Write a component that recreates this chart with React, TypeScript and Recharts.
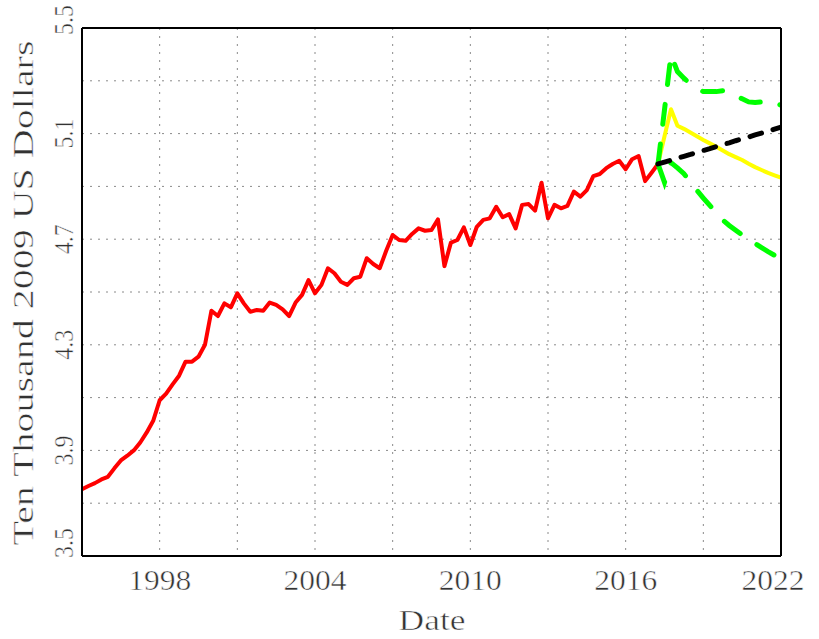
import React from 'react';
import { LineChart, Line, XAxis, YAxis, CartesianGrid } from 'recharts';

// Quarterly real income, history starting 1995 Q1
const historyStart = 1995;
const income = [
  3.753, 3.765, 3.776, 3.79,
  3.80, 3.832, 3.862, 3.88,
  3.90, 3.93, 3.968, 4.012,
  4.09, 4.115, 4.15, 4.183,
  4.236, 4.236, 4.255, 4.30,
  4.429, 4.409, 4.457, 4.442,
  4.495, 4.457, 4.425, 4.432,
  4.429, 4.46, 4.451, 4.434,
  4.409, 4.46, 4.489, 4.545,
  4.495, 4.527, 4.59, 4.571,
  4.539, 4.527, 4.552, 4.558,
  4.628, 4.606, 4.59, 4.656,
  4.716, 4.697, 4.694, 4.72,
  4.741, 4.732, 4.735, 4.775,
  4.598, 4.687, 4.697, 4.745,
  4.678, 4.747, 4.773, 4.779,
  4.823, 4.783, 4.795, 4.741,
  4.83, 4.833, 4.808, 4.914,
  4.779, 4.83, 4.817, 4.826,
  4.88, 4.861, 4.886, 4.939,
  4.947, 4.969, 4.985, 4.997,
  4.965, 5.003, 5.015, 4.92,
  4.952, 4.985,
];

// Forecasts, quarterly from 2017 Q2 to 2022 Q1
const forecastStart = 2017.25;
const forecastMean = [
  4.985, 5.09, 5.192, 5.13, 5.118, 5.104, 5.09, 5.076, 5.063, 5.05,
  5.036, 5.022, 5.011, 5.0, 4.986, 4.973, 4.962, 4.951, 4.942, 4.933,
];
const forecastUpper = [
  4.985, 5.19, 5.398, 5.335, 5.31, 5.288, 5.27, 5.259, 5.259, 5.259,
  5.262, 5.252, 5.242, 5.232, 5.22, 5.218, 5.22, 5.221, 5.215, 5.208,
];
const forecastLower = [
  4.985, 4.915, 4.99, 4.97, 4.948, 4.917, 4.885, 4.856, 4.828, 4.80,
  4.773, 4.752, 4.734, 4.716, 4.699, 4.684, 4.668, 4.653, 4.639, 4.625,
];
const trend = [
  4.985, 4.992, 4.999, 5.007, 5.014, 5.021, 5.029, 5.036, 5.043, 5.051,
  5.058, 5.065, 5.073, 5.08, 5.087, 5.095, 5.102, 5.109, 5.117, 5.124,
];

const xGridTicks = [1998, 2001, 2004, 2007, 2010, 2013, 2016, 2019, 2022];
const xLabelTicks = [1998, 2004, 2010, 2016, 2022];
const yGridTicks = [3.5, 3.7, 3.9, 4.1, 4.3, 4.5, 4.7, 4.9, 5.1, 5.3, 5.5];
const yLabelTicks = [3.5, 3.9, 4.3, 4.7, 5.1, 5.5];

const xDomain = [1995, 2022];
const yDomain = [3.5, 5.5];

const rows: any[] = [];
const nQuarters = (xDomain[1] - xDomain[0]) * 4;
for (let i = 0; i <= nQuarters; i++) {
  const t = historyStart + i / 4;
  const row: any = { t };
  if (i < income.length) row.income = income[i];
  const j = Math.round((t - forecastStart) * 4);
  if (j >= 0 && j < forecastMean.length) {
    row.mean = forecastMean[j];
    row.upper = forecastUpper[j];
    row.lower = forecastLower[j];
    row.trend = trend[j];
  }
  rows.push(row);
}

const FONT = '"Liberation Serif", serif';
const thin = { stroke: '#fff', strokeWidth: 0.5, paintOrder: 'fill' as any };

const XTick = (props: any) => {
  const { x, payload } = props;
  const v = payload.value;
  if (!xLabelTicks.includes(v)) return <g />;
  const cx = v === 2022 ? x - 8 : x;
  return (
    <text x={cx} y={590} textAnchor="middle" fontFamily={FONT} fontSize={29} fill="#333"
      textLength={63} lengthAdjust="spacingAndGlyphs" {...thin}>
      {String(v)}
    </text>
  );
};

const YTick = (props: any) => {
  const { y, payload } = props;
  const v = payload.value;
  if (!yLabelTicks.some((l) => Math.abs(l - v) < 1e-6)) return <g />;
  let cy = y;
  if (Math.abs(v - 5.5) < 1e-6) cy -= 8;
  if (Math.abs(v - 3.5) < 1e-6) cy -= 13;
  return (
    <text transform={`translate(73,${cy}) rotate(-90)`} textAnchor="middle" fontFamily={FONT}
      fontSize={27} fill="#333" textLength={30} lengthAdjust="spacingAndGlyphs" {...thin}>
      {v.toFixed(1)}
    </text>
  );
};

export default function App() {
  return (
    <div style={{ position: 'absolute', left: 0, top: 0, width: 819, height: 639, background: '#fff' }}>
      <LineChart width={819} height={639} data={rows} margin={{ top: 28, right: 38, bottom: 0, left: 0 }}>
        <CartesianGrid xAxisId="main" yAxisId="main" stroke="#8a8a8a" strokeDasharray="2 6" />
        <XAxis xAxisId="main" dataKey="t" type="number" domain={xDomain} ticks={xGridTicks}
          allowDataOverflow interval={0} height={83} tickLine={false}
          axisLine={{ stroke: '#000', strokeWidth: 2 }} tick={<XTick />} />
        <XAxis xAxisId="bottomTicks" dataKey="t" type="number" domain={xDomain} ticks={xGridTicks}
          interval={0} orientation="bottom" mirror tick={false} tickSize={8}
          tickLine={{ stroke: '#888' }} axisLine={false} />
        <XAxis xAxisId="top" dataKey="t" type="number" domain={xDomain} ticks={xGridTicks}
          interval={0} orientation="top" mirror tick={false} tickSize={8}
          tickLine={{ stroke: '#888' }} axisLine={{ stroke: '#000', strokeWidth: 2 }} />
        <YAxis yAxisId="main" type="number" domain={yDomain} ticks={yGridTicks} interval={0}
          width={82} tickLine={false} axisLine={{ stroke: '#000', strokeWidth: 2 }} tick={<YTick />} />
        <YAxis yAxisId="leftTicks" type="number" domain={yDomain} ticks={yGridTicks} interval={0}
          orientation="left" mirror tick={false} tickSize={8} tickLine={{ stroke: '#888' }} axisLine={false} />
        <YAxis yAxisId="right" type="number" domain={yDomain} ticks={yGridTicks} interval={0}
          orientation="right" mirror tick={false} tickSize={8} tickLine={{ stroke: '#888' }}
          axisLine={{ stroke: '#000', strokeWidth: 2 }} />
        <Line xAxisId="main" yAxisId="main" dataKey="income" stroke="#ff0000" strokeWidth={4}
          dot={false} isAnimationActive={false} strokeLinejoin="round" />
        <Line xAxisId="main" yAxisId="main" dataKey="mean" stroke="#ffff00" strokeWidth={4}
          dot={false} isAnimationActive={false} strokeLinejoin="round" />
        <Line xAxisId="main" yAxisId="main" dataKey="upper" stroke="#00ff00" strokeWidth={5}
          strokeDasharray="20 20" strokeLinecap="round" dot={false} isAnimationActive={false} />
        <Line xAxisId="main" yAxisId="main" dataKey="lower" stroke="#00ff00" strokeWidth={5}
          strokeDasharray="20 20" strokeLinecap="round" dot={false} isAnimationActive={false} />
        <Line xAxisId="main" yAxisId="main" dataKey="trend" stroke="#000000" strokeWidth={5}
          strokeDasharray="12 12" strokeLinecap="round" dot={false} isAnimationActive={false} />
      </LineChart>
      <svg width={819} height={639} style={{ position: 'absolute', left: 0, top: 0, pointerEvents: 'none' }}>
        <text x={432} y={630} textAnchor="middle" fontFamily={FONT} fontSize={29} fill="#333"
          textLength={67} lengthAdjust="spacingAndGlyphs" {...thin}>Date</text>
        <text transform="translate(33,293) rotate(-90)" textAnchor="middle" fontFamily={FONT}
          fontSize={29} fill="#333" textLength={505} lengthAdjust="spacingAndGlyphs" {...thin}>
          Ten Thousand 2009 US Dollars
        </text>
      </svg>
    </div>
  );
}
